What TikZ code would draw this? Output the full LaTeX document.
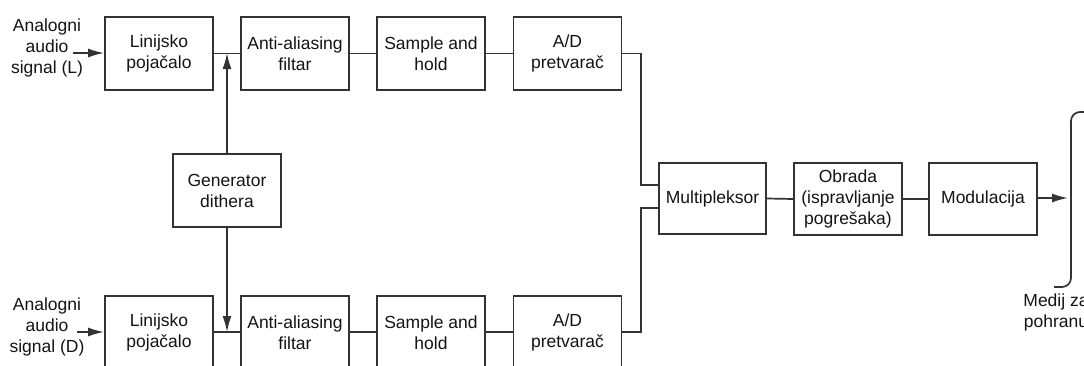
\documentclass[tikz,border=0pt]{standalone}
\usepackage{fontspec}
\setmainfont{Liberation Sans}
\usetikzlibrary{arrows.meta}
\definecolor{lc}{gray}{0.2}
\definecolor{tc}{gray}{0.08}
\begin{document}
\begin{tikzpicture}[x=1pt,y=-1pt,
  txt/.style={font=\fontsize{17.5}{21}\selectfont, text=tc, align=center},
  blk/.style={txt, draw=lc, line width=1.8pt, fill=white, minimum width=108pt, minimum height=73pt, inner sep=1pt},
  wire/.style={draw=lc, line width=1.7pt},
  arr/.style={wire, -{Latex[length=16pt,width=9pt]}}]
\useasboundingbox (0,0) rectangle (1084,365);
\fill[white] (0,0) rectangle (1084,365);

% top row
\node[blk] (linL) at (159,53.5) {Linijsko\\pojačalo};
\node[blk] (aaL) at (295,53.5) {Anti-aliasing\\filtar};
\node[blk] (shL) at (431,53.5) {Sample and\\hold};
\node[blk] (adL) at (567.5,53.5) {A/D\\pretvarač};
% bottom row
\node[blk] (linD) at (159,332.5) {Linijsko\\pojačalo};
\node[blk] (aaD) at (295,332.5) {Anti-aliasing\\filtar};
\node[blk] (shD) at (431,332.5) {Sample and\\hold};
\node[blk] (adD) at (567.5,332.5) {A/D\\pretvarač};
% generator
\node[blk] (gen) at (227,190.5) {Generator\\dithera};
% right chain
\node[blk, minimum width=107pt, minimum height=71pt] (mux) at (712.5,198.5) {Multipleksor};
\node[blk, minimum width=108pt, minimum height=72pt] (obr) at (848,199) {Obrada\\(ispravljanje\\pogrešaka)};
\node[blk, minimum width=108pt, minimum height=72pt] (mod) at (983,199) {Modulacija};

% input labels
\node[txt] (inL) at (47,48) {Analogni\\audio\\signal (L)};
\node[txt] (inD) at (47,327) {Analogni\\audio\\signal (D)};
\coordinate (aL) at (73,53);
\coordinate (aD) at (77,332);
\draw[arr] (aL) -- (linL.west|-aL);
\draw[arr] (aD) -- (linD.west|-aD);

% chains
\draw[wire] (linL.east) -- (aaL.west);
\draw[wire] (aaL.east) -- (shL.west);
\draw[wire] (shL.east) -- (adL.west);
\draw[wire] (linD.east|-aD) -- (aaD.west|-aD);
\draw[wire] (aaD.east|-aD) -- (shD.west|-aD);
\draw[wire] (shD.east|-aD) -- (adD.west|-aD);

% dither
\coordinate (dL) at (227,53);
\coordinate (dD) at (227,332);
\draw[arr] (gen.north) -- (dL);
\draw[arr] (gen.south) -- (dD);

% to multiplexer
\coordinate (jL) at (641,185);
\coordinate (jD) at (641,208);
\draw[wire] (adL.east) -| (jL) -- (mux.west|-jL);
\draw[wire] (adD.east|-aD) -| (jD) -- (mux.west|-jD);

\draw[wire] (mux.east) -- (obr.west);
\draw[wire] (obr.east) -- (mod.west);

% storage medium
\coordinate (med) at (1068,198);
\draw[arr] (mod.east|-med) -- (med);
\draw[wire, rounded corners=9pt] (1090,112) -- (1071,112) -- (1071,287) -- (1054,287);
\node[txt] (medij) at (1056,312) {Medij za\\pohranu};
\end{tikzpicture}
\end{document}
